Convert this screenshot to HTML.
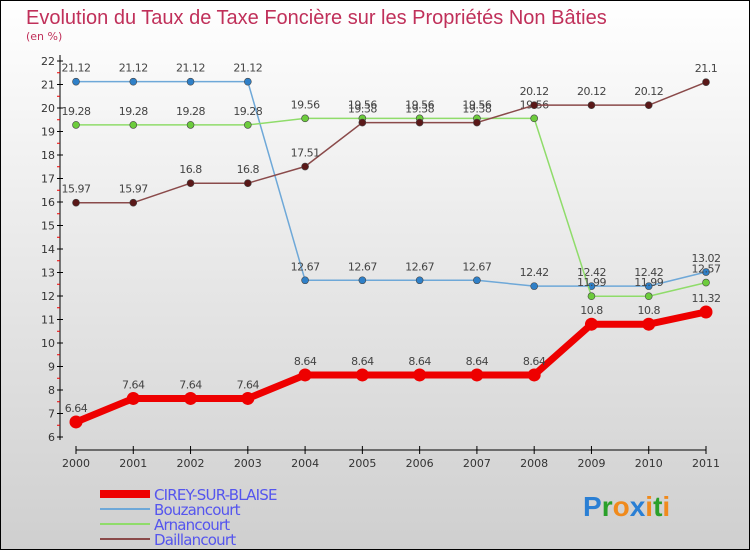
<!DOCTYPE html>
<html><head><meta charset="utf-8"><style>
body{margin:0;width:750px;height:550px;overflow:hidden}
svg{display:block;font-family:"DejaVu Sans","Liberation Sans",sans-serif}
</style></head><body>
<svg width="750" height="550">
<defs><linearGradient id="bg" x1="0" y1="0" x2="0" y2="1"><stop offset="0" stop-color="#ffffff"/><stop offset="1" stop-color="#cfcfcf"/></linearGradient></defs>
<rect x="0.5" y="0.5" width="749" height="549" fill="url(#bg)" stroke="#000"/>
<text x="26" y="24" font-size="20" fill="#c0305a" style="font-family:'Liberation Sans',sans-serif;font-weight:300">Evolution du Taux de Taxe Foncière sur les Propriétés Non Bâties</text>
<text x="26" y="40" font-size="11" fill="#c0305a">(en %)</text>
<g id="axes"></g>
<g id="series"></g>
<g id="legend"></g>
<text x="583" y="516" font-size="28" font-weight="bold" style="font-family:'Liberation Sans',sans-serif"><tspan fill="#2a7fd4">P</tspan><tspan fill="#2aa02a">r</tspan><tspan fill="#f08a1c">o</tspan><tspan fill="#2a7fd4">x</tspan><tspan fill="#f08a1c">i</tspan><tspan fill="#2aa02a">t</tspan><tspan fill="#f08a1c">i</tspan></text>
</svg>
<script>
const years=[2000,2001,2002,2003,2004,2005,2006,2007,2008,2009,2010,2011];
const yTicks=[6,7,8,9,10,11,12,13,14,15,16,17,18,19,20,21,22];
const cirey=[6.64,7.64,7.64,7.64,8.64,8.64,8.64,8.64,8.64,10.8,10.8,11.32];
const bouzancourt=[21.12,21.12,21.12,21.12,12.67,12.67,12.67,12.67,12.42,12.42,12.42,13.02];
const arnancourt=[19.28,19.28,19.28,19.28,19.56,19.56,19.56,19.56,19.56,11.99,11.99,12.57];
const daillancourt=[15.97,15.97,16.8,16.8,17.51,19.38,19.38,19.38,20.12,20.12,20.12,21.1];
const NS="http://www.w3.org/2000/svg";
const X=i=>76+i*(630/11);
const Y=v=>437-(v-6)*23.5;
function mk(p,tag,attrs){const e=document.createElementNS(NS,tag);for(const k in attrs)e.setAttribute(k,attrs[k]);p.appendChild(e);return e;}
const ax=document.getElementById('axes');
let l=mk(ax,'line',{x1:60,y1:55,x2:60,y2:440,stroke:'#000'});


l=mk(ax,'line',{x1:76,y1:450,x2:706,y2:450,stroke:'#000'});


yTicks.forEach(v=>{
 mk(ax,'line',{x1:57,y1:Y(v),x2:63,y2:Y(v),stroke:'#000'});
 if(v<22) mk(ax,'line',{x1:57,y1:Y(v+0.5),x2:60,y2:Y(v+0.5),stroke:'#e00'});
 const t=mk(ax,'text',{x:55,y:Y(v)+4,'font-size':11,'text-anchor':'end',fill:'#333'});t.textContent=v;
 
 
});
years.forEach((y,i)=>{
 mk(ax,'line',{x1:X(i),y1:446,x2:X(i),y2:454,stroke:'#000'});
 const t=mk(ax,'text',{x:X(i),y:467,'font-size':11,'text-anchor':'middle',fill:'#333'});t.textContent=y;
 
 
});
const sg=document.getElementById('series');
function draw(data,color,dot,w,r,name){
 const g=mk(sg,'g',{});
 
 
 mk(g,'polyline',{points:data.map((v,i)=>X(i)+','+Y(v)).join(' '),fill:'none',stroke:color,'stroke-width':w,'stroke-linejoin':'round'});
 data.forEach((v,i)=>{
  const c=mk(g,'circle',{cx:X(i),cy:Y(v),r:r,fill:dot,stroke:'#444','stroke-width':r>5?0:0.6});
  
  
  const t=mk(g,'text',{x:X(i),y:Y(v)-10,'font-size':11,'text-anchor':'middle',fill:'#444','letter-spacing':'-0.5'});t.textContent=v;
  
  
 });
}
draw(bouzancourt,'#6ea8d8','#2f80c8',1.5,3.5,'bouzancourt-line');
draw(arnancourt,'#8fdc6a','#6ccc3c',1.5,3.5,'arnancourt-line');
draw(daillancourt,'#8a4a4a','#5a1818',1.5,3.5,'daillancourt-line');
draw(cirey,'#ee0000','#ee0000',7,6.5,'cirey-line');
const lg=document.getElementById('legend');
const leg=[['CIREY-SUR-BLAISE','#ee0000',8],['Bouzancourt','#6ea8d8',2],['Arnancourt','#8fdc6a',2],['Daillancourt','#8a4a4a',2]];
leg.forEach((e,i)=>{
 const y=494+i*15;
 const ln=mk(lg,'line',{x1:100,y1:y,x2:150,y2:y,stroke:e[1],'stroke-width':e[2]});
 
 
 const t=mk(lg,'text',{x:154,y:y+6,'font-size':15,fill:'#5555ee','letter-spacing':'-0.8'});t.textContent=e[0];
 
 
});
</script>
</body></html>
